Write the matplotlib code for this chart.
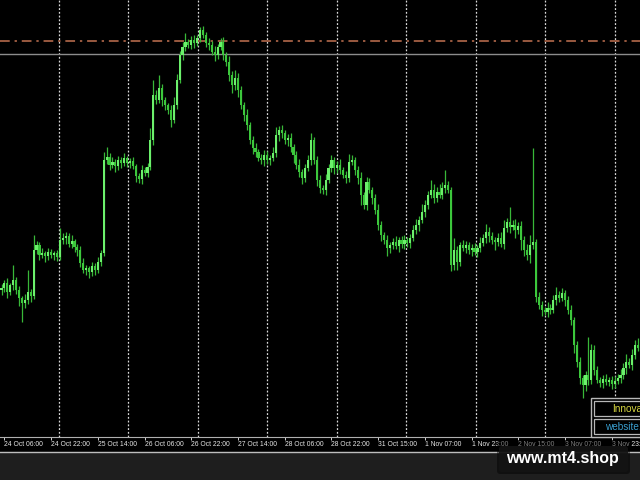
import numpy as np
import matplotlib
matplotlib.use("Agg")
import matplotlib.pyplot as plt
from matplotlib.patches import Rectangle, FancyBboxPatch

# ---------------- data (price in chart points) ----------------
first_open = 150
closes = [
    152, 157, 148, 155, 160, 150, 142, 137, 140, 148,
    144, 190, 195, 185, 187, 184, 188, 185, 187, 183,
    200, 202, 204, 196, 199, 193, 190, 177, 170, 172,
    168, 174, 170, 178, 187, 280, 283, 275, 278, 274,
    280, 277, 282, 277, 279, 274, 264, 261, 270, 267,
    273, 300, 345, 340, 352, 340, 335, 330, 320, 335,
    360, 385, 393, 398, 395, 400, 397, 402, 410, 405,
    397, 395, 388, 385, 393, 398, 385, 378, 365, 355,
    362, 350, 335, 325, 315, 300, 292, 288, 282, 280,
    285, 280, 282, 287, 305, 310, 307, 300, 302, 293,
    285, 275, 268, 262, 272, 280, 300, 280, 260, 252,
    250, 260, 272, 280, 272, 275, 270, 265, 262, 278,
    280, 270, 262, 245, 235, 258, 250, 242, 230, 215,
    205, 200, 192, 195, 198, 194, 200, 196, 200, 197,
    202, 210, 215, 220, 228, 235, 245, 250, 242, 248,
    245, 252, 255, 250, 175, 190, 178, 195, 192, 195,
    190, 192, 188, 192, 197, 202, 208, 204, 200, 198,
    202, 196, 212, 218, 213, 215, 210, 214, 200, 190,
    185, 195, 198, 143, 135, 130, 128, 132, 130, 140,
    145, 142, 147, 140, 130, 120, 95, 78, 62, 55,
    65, 60, 90, 70, 60, 57, 61, 58, 60, 56,
    59, 62, 65, 72, 78, 75, 85, 95, 92,
]
upper_wick = [
    4, 3, 5, 2, 15, 3, 4, 2, 6, 22,
    3, 15, 4, 3, 5, 2, 4, 3, 2, 3,
    12, 5, 4, 3, 6, 2, 3, 4, 5, 3,
    2, 4, 3, 5, 3, 8, 10, 4, 5, 3,
    4, 3, 5, 2, 3, 4, 2, 3, 5, 3,
    4, 12, 15, 5, 13, 4, 3, 2, 5, 8,
    6, 4, 5, 9, 3, 4, 5, 3, 3, 4,
    3, 5, 4, 6, 3, 4, 5, 3, 6, 4,
    8, 5, 4, 3, 6, 3, 4, 5, 3, 4,
    5, 4, 3, 6, 8, 4, 5, 3, 4, 5,
    3, 4, 6, 3, 4, 5, 7, 3, 4, 5,
    3, 6, 4, 5, 3, 4, 6, 3, 4, 8,
    5, 3, 4, 6, 3, 5, 4, 3, 4, 6,
    4, 3, 5, 3, 4, 6, 3, 4, 5, 3,
    4, 5, 6, 4, 8, 5, 4, 10, 6, 5,
    8, 6, 15, 4, 3, 12, 4, 3, 5, 4,
    3, 4, 5, 3, 6, 4, 8, 5, 4, 3,
    5, 6, 8, 4, 15, 5, 6, 4, 5, 4,
    6, 10, 94, 3, 5, 4, 3, 6, 4, 5,
    8, 4, 5, 3, 4, 5, 3, 4, 5, 3,
    4, 38, 6, 5, 4, 3, 4, 5, 3, 4,
    5, 4, 6, 5, 8, 4, 6, 5, 7,
]
lower_wick = [
    5, 4, 6, 3, 5, 4, 8, 19, 5, 4,
    6, 3, 4, 5, 3, 6, 4, 3, 5, 4,
    3, 4, 6, 3, 4, 5, 6, 4, 3, 5,
    6, 4, 5, 3, 4, 3, 4, 5, 3, 6,
    4, 5, 3, 4, 5, 3, 6, 4, 5, 3,
    4, 3, 5, 4, 3, 6, 5, 4, 7, 3,
    4, 3, 5, 4, 3, 4, 5, 3, 4, 3,
    4, 5, 3, 6, 4, 3, 5, 4, 6, 8,
    5, 7, 4, 6, 5, 4, 6, 5, 3, 4,
    6, 4, 5, 3, 4, 6, 5, 4, 6, 5,
    8, 4, 5, 6, 4, 3, 5, 4, 6, 5,
    4, 5, 3, 4, 6, 5, 4, 3, 5, 4,
    3, 5, 6, 10, 4, 5, 3, 6, 4, 5,
    6, 4, 8, 5, 4, 3, 6, 4, 5, 4,
    5, 3, 4, 6, 3, 5, 4, 3, 5, 4,
    3, 4, 5, 3, 6, 5, 8, 4, 3, 5,
    4, 6, 3, 5, 4, 3, 5, 6, 4, 8,
    4, 3, 5, 4, 6, 3, 8, 4, 10, 6,
    5, 8, 4, 5, 4, 6, 3, 5, 4, 3,
    5, 4, 3, 6, 4, 5, 8, 5, 6, 13,
    6, 5, 4, 5, 3, 4, 5, 3, 4, 5,
    4, 3, 5, 4, 6, 3, 5, 4, 3,
]
time_labels = ["24 Oct 06:00", "24 Oct 22:00", "25 Oct 14:00", "26 Oct 06:00",
               "26 Oct 22:00", "27 Oct 14:00", "28 Oct 06:00", "28 Oct 22:00",
               "31 Oct 15:00", "1 Nov 07:00", "1 Nov 23:00", "2 Nov 15:00",
               "3 Nov 07:00", "3 Nov 23:00"]
level_dashdot = 399
level_gray = 386

# ---------------- derived OHLC ----------------
c = np.array(closes, dtype=float)
o = np.concatenate([[first_open], c[:-1]])
h = np.maximum(o, c) + np.array(upper_wick)
l = np.minimum(o, c) - np.array(lower_wick)
x = np.arange(len(c))

# ---------------- figure ----------------
W, H = 640, 480
fig = plt.figure(figsize=(6.4, 4.8), dpi=100, facecolor="black")
plot_bottom_px = 437
ax = fig.add_axes([0, (H - plot_bottom_px) / H, 1, plot_bottom_px / H])
ax.set_facecolor("black")

px_per_bar = 2.92
x0 = -1.5 / px_per_bar
ax.set_xlim(x0, x0 + W / px_per_bar)
ax.set_ylim(440 - plot_bottom_px, 440)

# grid (vertical dotted)
for k in range(9):
    gx = (58.7 + 69.5 * k - 1.5) / px_per_bar
    ax.axvline(gx, color="#d8d8d8", lw=0.9, ls=(0, (1.5, 1.5)), zorder=1)

# horizontal levels
ax.axhline(level_dashdot, color="#9a5a40", lw=1.4, ls=(0, (5, 2.5, 1.2, 2.5)), zorder=2)
ax.axhline(level_gray, color="#8c8c8c", lw=1.0, zorder=2)

# candles
up = c >= o
ax.vlines(x, l, h, color="#38b838", lw=0.9, zorder=3)
body_bottom = np.minimum(o, c)
body_h = np.maximum(np.abs(c - o), 0.8)
ax.bar(x[up], body_h[up], bottom=body_bottom[up], width=0.72,
       color="#6cf06c", edgecolor="none", zorder=4)
ax.bar(x[~up], body_h[~up], bottom=body_bottom[~up], width=0.72,
       color="#3cc83c", edgecolor="none", zorder=4)

# axis styling
for s in ["top", "left", "right"]:
    ax.spines[s].set_visible(False)
ax.spines["bottom"].set_color("#b0b0b0")
ax.spines["bottom"].set_linewidth(0.8)
ax.set_yticks([])
tick_pos = np.arange(1, len(c), 16)[:len(time_labels)]
ax.set_xticks(tick_pos)
ax.set_xticklabels(time_labels, ha="left",
                   fontfamily=["Liberation Sans", "DejaVu Sans"], fontsize=4.9,
                   color="#e6e6e6")
ax.tick_params(axis="x", direction="out", length=2.2, width=0.7, color="#d0d0d0", pad=1.0)

# ---------------- overlay in pixel coords ----------------
ov = fig.add_axes([0, 0, 1, 1], zorder=5)
ov.set_xlim(0, W)
ov.set_ylim(H, 0)
ov.axis("off")
ov.patch.set_alpha(0)

ov.add_patch(Rectangle((0, 452), W, 28, color="#1e1e1e", zorder=1))
ov.plot([0, W], [452, 452], color="#bdbdbd", lw=1.0, zorder=2)

# info box bottom right (cut by the right edge, as in the screenshot)
ov.add_patch(Rectangle((591, 398), 60, 39, facecolor="black", edgecolor="#b8b8b8", lw=1.0, zorder=3))
ov.add_patch(Rectangle((594, 401), 60, 15, facecolor="black", edgecolor="#b8b8b8", lw=0.9, zorder=4))
ov.add_patch(Rectangle((594, 419), 60, 15, facecolor="black", edgecolor="#b8b8b8", lw=0.9, zorder=4))
ov.text(612, 409, "Innova", color="#d8d840", fontsize=7.2, va="center", ha="left",
        fontfamily="Liberation Sans", zorder=5)
ov.text(605, 427, "website:", color="#3a9fd0", fontsize=7.2, va="center", ha="left",
        fontfamily="Liberation Sans", zorder=5)

# watermark
ov.add_patch(FancyBboxPatch((497, 440), 133, 34, boxstyle="round,pad=0,rounding_size=3",
                            facecolor="black", edgecolor="none", alpha=0.45, zorder=6))
ov.add_patch(FancyBboxPatch((499, 446), 129, 26, boxstyle="round,pad=0,rounding_size=3",
                            facecolor="#141414", edgecolor="none", alpha=0.9, zorder=7))
ov.text(562, 458, "www.mt4.shop", color="white", fontsize=11.5, fontweight="bold",
        ha="center", va="center", fontfamily="Liberation Sans", zorder=8)

fig.savefig("out.png", dpi=100, facecolor="black")
